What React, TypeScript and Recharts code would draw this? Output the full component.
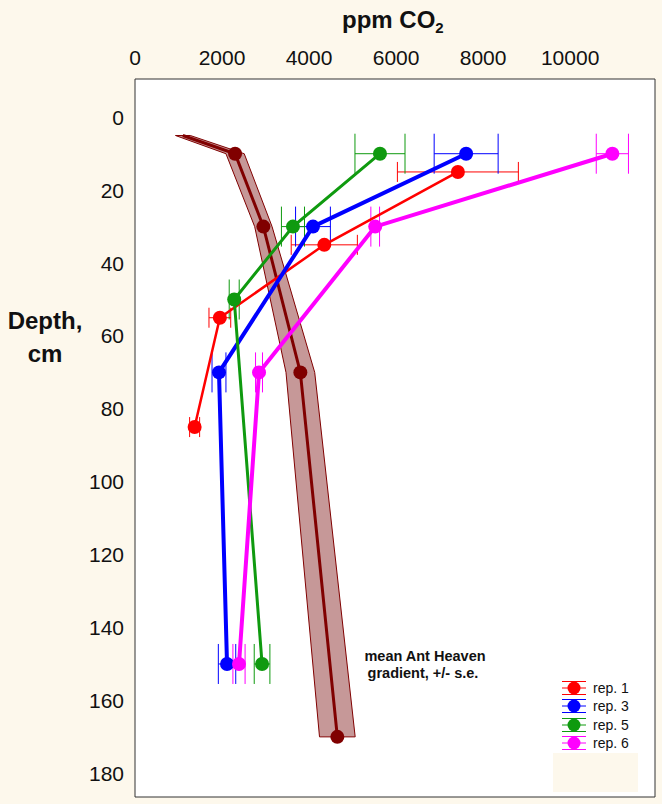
import React from "react";
import { ScatterChart, Scatter, XAxis, YAxis, ErrorBar, CartesianGrid, Legend } from "recharts";

// ticks
const xTicks = [0, 2000, 4000, 6000, 8000, 10000];
const yTicks = [0, 20, 40, 60, 80, 100, 120, 140, 160, 180];

// replicate profiles: depth (cm), CO2 (ppm), +/- error (ppm)
const rep1Depth = [15, 35, 55, 85];
const rep1Ppm = [7420, 4350, 1950, 1370];
const rep1Err = [1390, 760, 250, 115];

const rep3Depth = [10, 30, 70, 150];
const rep3Ppm = [7610, 4090, 1930, 2115];
const rep3Err = [735, 400, 160, 200];

const rep5Depth = [10, 30, 50, 150];
const rep5Ppm = [5630, 3630, 2280, 2920];
const rep5Err = [575, 265, 115, 180];

const rep6Depth = [10, 30, 70, 150];
const rep6Ppm = [10970, 5520, 2850, 2390];
const rep6Err = [370, 100, 80, 140];

// mean gradient and its s.e.
const meanDepth = [5, 10, 30, 70, 170];
const meanPpm = [1100, 2300, 2950, 3800, 4650];
const meanSe = [170, 210, 200, 330, 410];

const toPoints = (depth: number[], ppm: number[], err: number[]) =>
  depth.map((d, i) => ({ depth: d, ppm: ppm[i], err: err[i] }));

const reps = [
  { name: "rep. 1", color: "#ff0000", width: 2.5, cap: 10, points: toPoints(rep1Depth, rep1Ppm, rep1Err) },
  { name: "rep. 3", color: "#0000ff", width: 4, cap: 20, points: toPoints(rep3Depth, rep3Ppm, rep3Err) },
  { name: "rep. 5", color: "#0f9a0f", width: 3, cap: 20, points: toPoints(rep5Depth, rep5Ppm, rep5Err) },
  { name: "rep. 6", color: "#ff00ff", width: 4, cap: 20, points: toPoints(rep6Depth, rep6Ppm, rep6Err) },
];

const meanPoints = meanDepth.map((d, i) => ({ depth: d, ppm: meanPpm[i] }));
// outline of the +/- s.e. band: down the low side, back up the high side
const bandPoints = [
  ...meanDepth.map((d, i) => ({ depth: d, ppm: meanPpm[i] - meanSe[i] })),
  ...meanDepth.map((d, i) => ({ depth: d, ppm: meanPpm[i] + meanSe[i] })).reverse(),
];
bandPoints.push(bandPoints[0]);

const DARK = "#800000";
const CREAM = "#fdf8ec";
const FONT = "'Liberation Sans', Arial, sans-serif";

const dot = (color: string, r = 7) => (p: any) => <circle cx={p.cx} cy={p.cy} r={r} fill={color} />;
const noDot = () => <g />;

const LegendBox = () => (
  <div style={{ background: "#fff", fontFamily: FONT }}>
    {reps.map(s => (
      <div key={s.name} style={{ display: "flex", alignItems: "center", height: 18.3 }}>
        <svg width={30} height={18} style={{ display: "block" }}>
          <line x1={3} x2={27} y1={2.5} y2={2.5} stroke={s.color} strokeWidth={1} />
          <line x1={3} x2={27} y1={9} y2={9} stroke={s.color} strokeWidth={1} />
          <line x1={3} x2={27} y1={15.5} y2={15.5} stroke={s.color} strokeWidth={1} />
          <circle cx={15} cy={9} r={6.5} fill={s.color} />
        </svg>
        <span style={{ fontSize: 14, marginLeft: 4, color: "#111" }}>{s.name}</span>
      </div>
    ))}
  </div>
);

export default function App() {
  return (
    <div style={{ position: "absolute", left: 0, top: 0, width: 662, height: 804, background: CREAM, fontFamily: FONT }}>
      <ScatterChart width={662} height={804} margin={{ top: 39, right: 7, bottom: 7, left: 85 }} style={{ fontFamily: FONT }}>
        <CartesianGrid xAxisId="top" yAxisId="left" horizontal={false} vertical={false} fill="#fff" />
        <XAxis xAxisId="top" orientation="top" type="number" dataKey="ppm" domain={[0, 11950]} allowDataOverflow
          ticks={xTicks} height={40} tickLine={false} tickSize={0} tickMargin={14}
          axisLine={{ stroke: "#333" }} tick={{ fontSize: 21, fill: "#111" }} />
        <XAxis xAxisId="topIn" orientation="top" mirror type="number" dataKey="ppm" domain={[0, 11950]} allowDataOverflow
          ticks={xTicks} tick={false} tickSize={5} axisLine={false} tickLine={{ stroke: "#333" }} />
        <XAxis xAxisId="bottom" orientation="bottom" mirror type="number" dataKey="ppm" domain={[0, 11950]} allowDataOverflow
          ticks={xTicks} tick={false} tickSize={5} axisLine={{ stroke: "#333" }} tickLine={{ stroke: "#333" }} />
        <YAxis yAxisId="left" orientation="left" type="number" dataKey="depth" reversed domain={[-10.5, 186.5]} allowDataOverflow
          ticks={yTicks} width={50} tickLine={false} tickSize={0} tickMargin={11}
          axisLine={{ stroke: "#333" }} tick={{ fontSize: 21, fill: "#111" }} />
        <YAxis yAxisId="leftIn" orientation="left" mirror type="number" dataKey="depth" reversed domain={[-10.5, 186.5]} allowDataOverflow
          ticks={yTicks} tick={false} tickSize={5} axisLine={false} tickLine={{ stroke: "#333" }} />
        <YAxis yAxisId="right" orientation="right" mirror type="number" dataKey="depth" reversed domain={[-10.5, 186.5]} allowDataOverflow
          ticks={yTicks} tick={false} tickSize={5} axisLine={{ stroke: "#333" }} tickLine={{ stroke: "#333" }} />

        <Scatter name="band" data={bandPoints} xAxisId="top" yAxisId="left" shape={noDot} legendType="none"
          line={{ stroke: DARK, strokeWidth: 1, fill: "#c69898" }} isAnimationActive={false} />
        <Scatter name="mean" data={meanPoints} xAxisId="top" yAxisId="left" shape={noDot} legendType="none"
          line={{ stroke: DARK, strokeWidth: 3 }} isAnimationActive={false} />
        {/* no marker at the 5 cm start of the mean line */}
        <Scatter name="meanDots" data={meanPoints.slice(1)} xAxisId="top" yAxisId="left" shape={dot(DARK)} legendType="none"
          isAnimationActive={false} />

        {reps.map(s => (
          <Scatter key={s.name} name={s.name} data={s.points} xAxisId="top" yAxisId="left" fill={s.color}
            line={{ stroke: s.color, strokeWidth: s.width }} shape={dot(s.color)} isAnimationActive={false}>
            <ErrorBar dataKey="err" direction="x" width={s.cap} stroke={s.color} strokeWidth={1} isAnimationActive={false} />
          </Scatter>
        ))}

        <Legend layout="vertical" align="center" verticalAlign="middle" content={LegendBox}
          wrapperStyle={{ left: 559, top: 679, width: 80 }} />
      </ScatterChart>

      <div style={{ position: "absolute", left: 553, top: 753, width: 85, height: 39, background: CREAM }} />

      <svg width={662} height={804} style={{ position: "absolute", left: 0, top: 0, pointerEvents: "none" }}>
        <text x={342} y={28} fontSize={24} fontWeight="bold" fill="#111" fontFamily={FONT}>
          ppm CO<tspan fontSize={15} dy={5}>2</tspan>
        </text>
        <text x={45} y={329} fontSize={24} fontWeight="bold" fill="#111" textAnchor="middle" fontFamily={FONT}>Depth,</text>
        <text x={45} y={362} fontSize={24} fontWeight="bold" fill="#111" textAnchor="middle" fontFamily={FONT}>cm</text>
        <text x={425} y={661} fontSize={14.5} fontWeight="bold" fill="#111" textAnchor="middle" fontFamily={FONT}>mean Ant Heaven</text>
        <text x={423} y={678} fontSize={14.5} fontWeight="bold" fill="#111" textAnchor="middle" fontFamily={FONT}>gradient, +/- s.e.</text>
      </svg>
    </div>
  );
}
